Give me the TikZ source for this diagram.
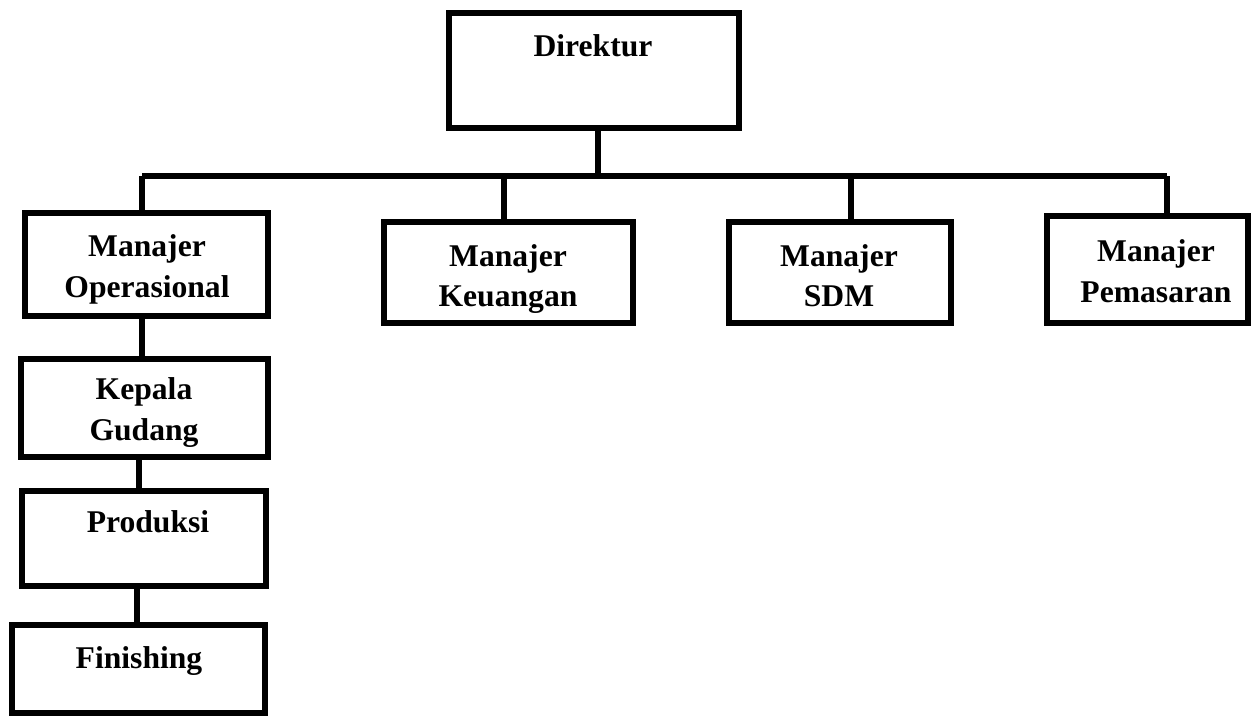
\documentclass[tikz,border=0pt]{standalone}
\usepackage{fontspec}
\setmainfont{Liberation Serif}
\usepackage{tikz}

\begin{document}
\begin{tikzpicture}[x=0.02cm,y=-0.02cm,
		box/.style={draw, rectangle, line width=3.7pt, inner sep=0pt, minimum height=2.02cm},
		lbl/.style={anchor=base, align=center, inner sep=0pt, font=\fontsize{18}{23.3}\selectfont\bfseries},
		conn/.style={line width=3.7pt}]
		\useasboundingbox (0,0) rectangle (1251,716);
		
		% boxes
		\node[box, minimum width=5.8cm, minimum height=2.3cm] (dir) at (594,70.5) {};
		\node[box, minimum width=4.86cm, minimum height=2.06cm] (op) at (146.5,264.5) {};
		\node[box, minimum width=4.98cm] (keu) at (508.5,272.5) {};
		\node[box, minimum width=4.44cm] (sdm) at (840,272.5) {};
		\node[box, minimum width=4.02cm, minimum height=2.14cm] (pem) at (1147.5,269.5) {};
		\node[box, minimum width=4.94cm, minimum height=1.96cm] (kg) at (144.5,408) {};
		\node[box, minimum width=4.88cm, minimum height=1.9cm] (prod) at (144,538.5) {};
		\node[box, minimum width=5.06cm, minimum height=1.76cm] (fin) at (138.5,669) {};
		
		% labels (base = last line)
		\node[lbl] (tdir) at (593,57) {Direktur};
		\node[lbl] (top) at (147,297) {Manajer\\Operasional};
		\node[lbl] (tkeu) at (508,307) {Manajer\\Keuangan};
		\node[lbl] (tsdm) at (839,307) {Manajer\\SDM};
		\node[lbl] (tpem) at (1156,302) {Manajer\\Pemasaran};
		\node[lbl] (tkg) at (144,440) {Kepala\\Gudang};
		\node[lbl] (tprod) at (148,532) {Produksi};
		\node[lbl] (tfin) at (139,668) {Finishing};
		
		% connectors
		\coordinate (busL) at (142,176);
		\coordinate (busR) at (1167,176);
		\draw[conn] (busL) -- (busR);
		\draw[conn] ([xshift=0.08cm]dir.south) -- ([xshift=0.08cm]dir.south |- busL);
		\draw[conn] (op.north -| busL) -- (busL);
		\draw[conn] ([xshift=-0.09cm]keu.north) -- ([xshift=-0.09cm]keu.north |- busL);
		\draw[conn] ([xshift=0.22cm]sdm.north) -- ([xshift=0.22cm]sdm.north |- busL);
		\draw[conn] (pem.north -| busR) -- (busR);
		\draw[conn] ([xshift=-0.09cm]op.south) -- ([xshift=-0.09cm]op.south |- kg.north);
		\draw[conn] ([xshift=-0.11cm]kg.south) -- ([xshift=-0.11cm]kg.south |- prod.north);
		\draw[conn] ([xshift=-0.14cm]prod.south) -- ([xshift=-0.14cm]prod.south |- fin.north);
	\end{tikzpicture}
\end{document}
